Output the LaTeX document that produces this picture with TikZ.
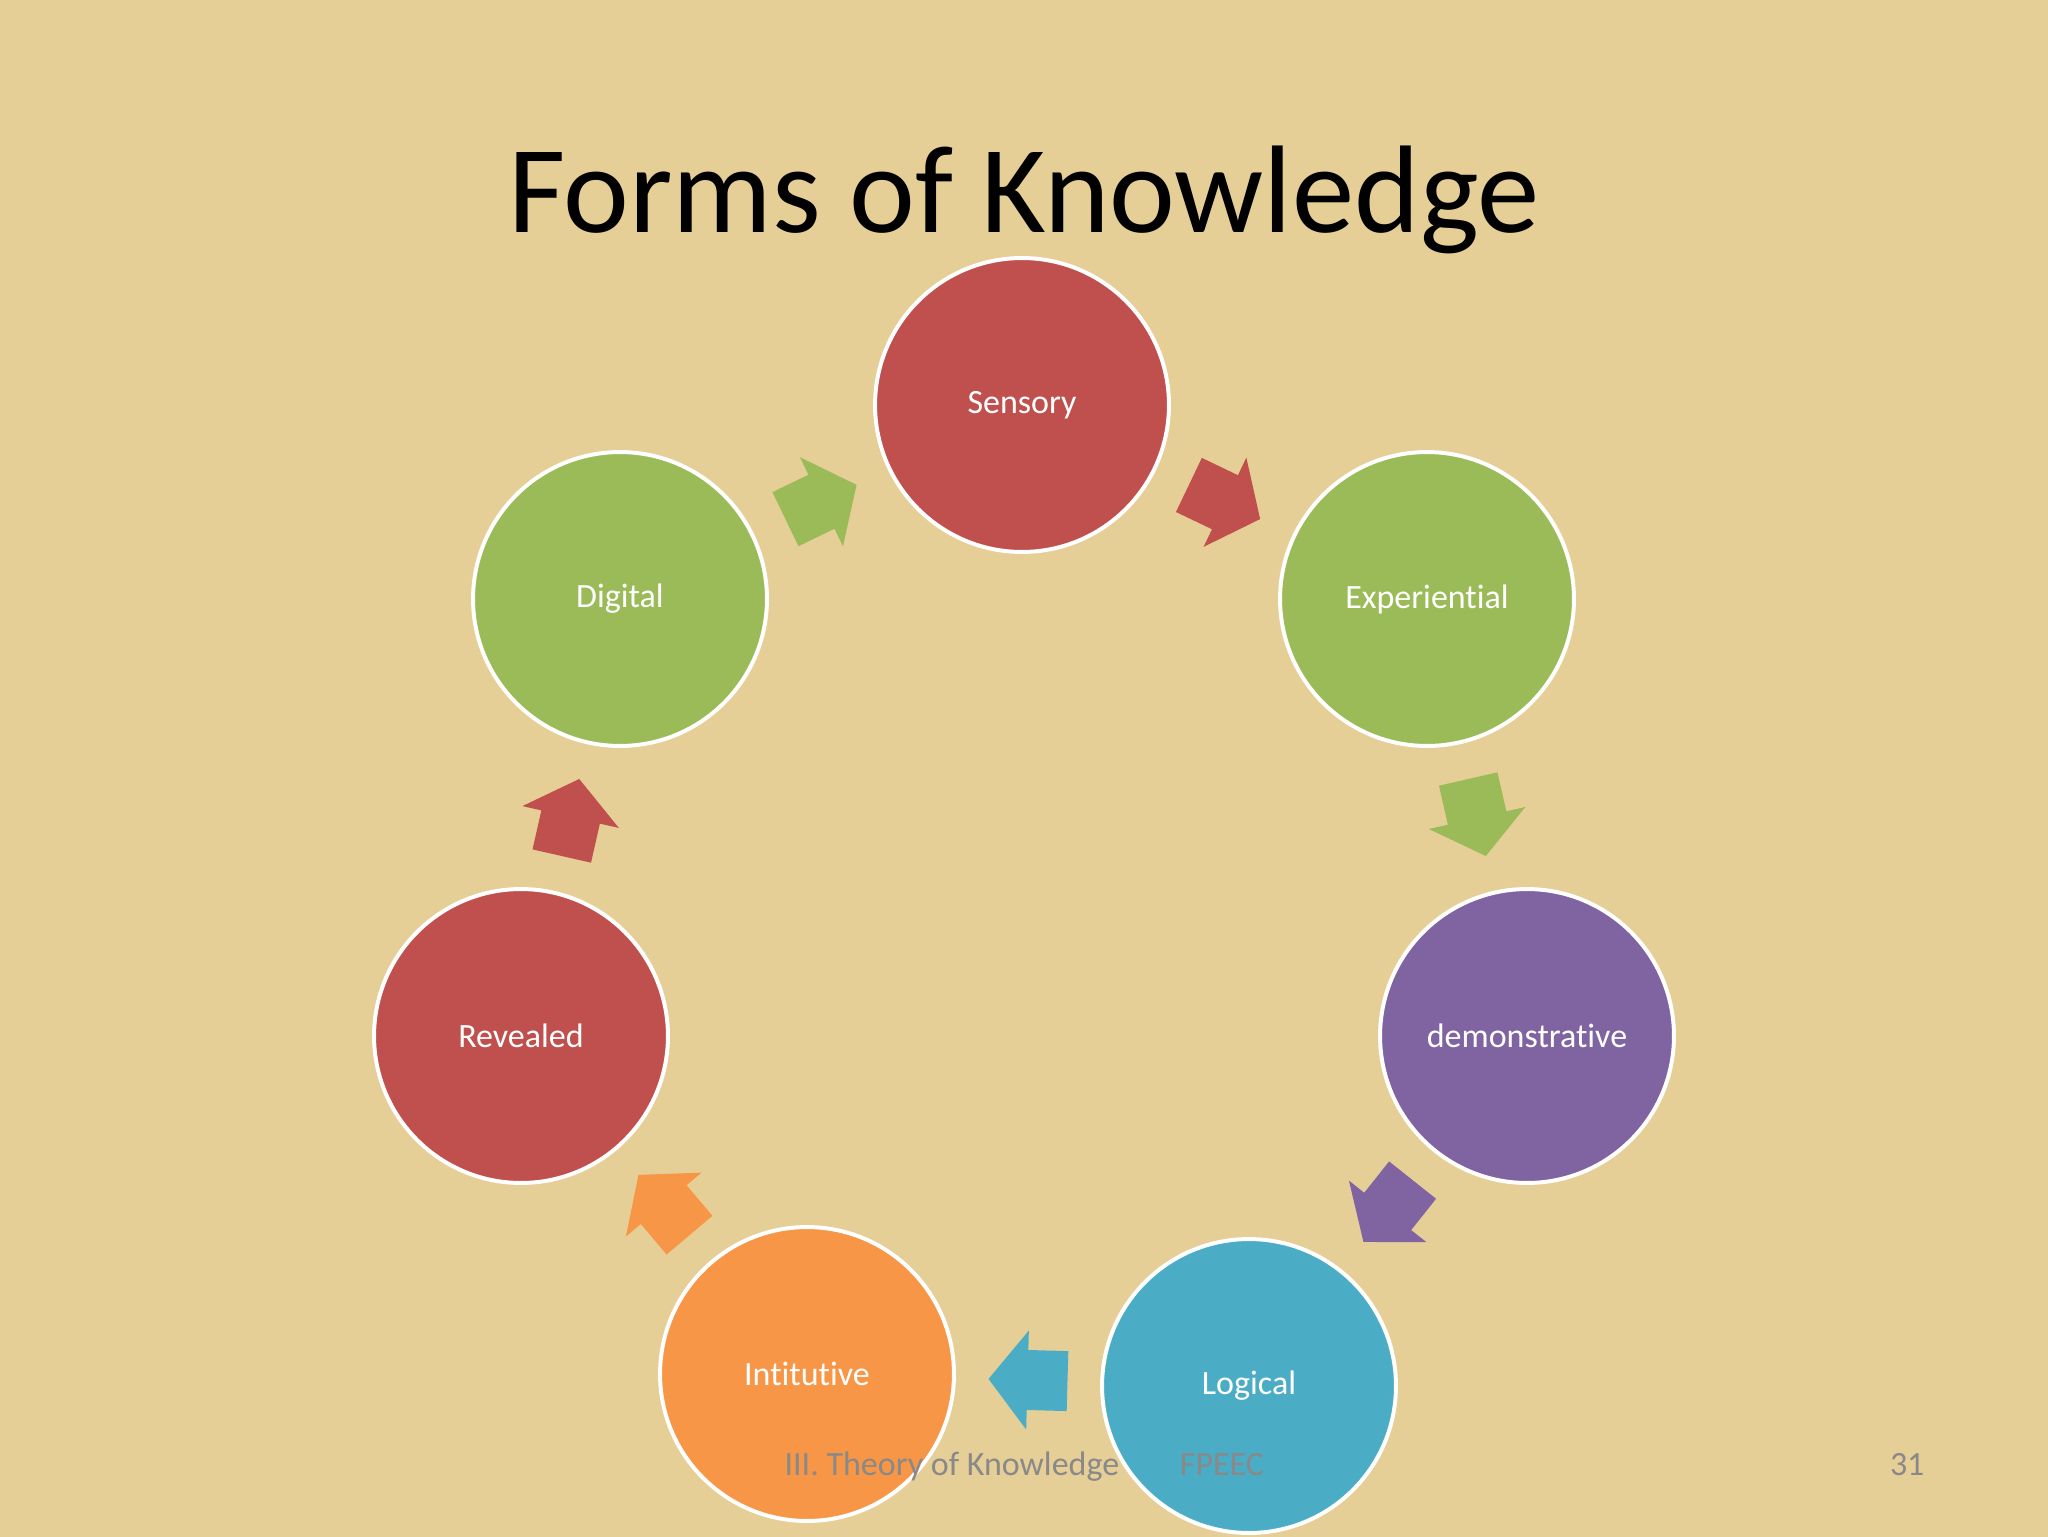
\documentclass[tikz,border=0pt]{standalone}
\usepackage{fontspec}
\setmainfont[Ligatures=NoCommon]{Carlito}
\usetikzlibrary{calc}
\definecolor{parchment}{HTML}{E6CF97}
\definecolor{formred}{HTML}{C0504D}
\definecolor{formgreen}{HTML}{9BBB59}
\definecolor{formpurple}{HTML}{8064A2}
\definecolor{formblue}{HTML}{4BACC6}
\definecolor{formorange}{HTML}{F79646}
\definecolor{footgray}{HTML}{898989}

\begin{document}
\begin{tikzpicture}[x=0.0124023cm,y=-0.0124023cm,
  form node/.style={circle,draw=white,line width=1.4pt,minimum size=3.646cm,inner sep=0pt,text=white,font=\fontsize{12}{14}\selectfont},
  foot/.style={text=footgray,font=\fontsize{12}{14}\selectfont,inner sep=0pt},
  blockarrow/.pic={\fill[#1] (-39.5,-30) -- (0.5,-30) -- (0.5,-49.5) -- (39.5,0) -- (0.5,49.5) -- (0.5,30) -- (-39.5,30) -- cycle;}]
  \useasboundingbox (0,0) rectangle (2048,1536);
  \fill[parchment] (-10,-10) rectangle (2058,1546);

  \node[anchor=base,inner sep=0pt,font=\fontsize{44}{52}\selectfont] (title) at (1024,232) {Forms of Knowledge};

  \node[form node,fill=formred] (1) at (1022,405) {Sensory};
  \node[form node,fill=formgreen] (2) at (1427,599) {Experiential};
  \node[form node,fill=formpurple] (3) at (1527,1036) {demonstrative};
  \node[form node,fill=formblue] (4) at (1249,1386) {Logical};
  \node[form node,fill=formorange] (5) at (807,1374) {Intitutive};
  \node[form node,fill=formred] (6) at (521,1036) {Revealed};
  \node[form node,fill=formgreen] (7) at (620,599) {Digital};

  % cycle arrows, coloured like the circle they leave
  \foreach \a/\b/\c in {1/2/formred,2/3/formgreen,3/4/formpurple,4/5/formblue,5/6/formorange,6/7/formred,7/1/formgreen}
    \path let \p1=($(\b)-(\a)$), \n1={atan2(\y1,\x1)} in
      ($(\a)!0.5!(\b)$) pic[rotate=\n1] {blockarrow=\c};

  \node[foot,anchor=base west] (footl) at (784,1475) {III. Theory of Knowledge};
  \node[foot,anchor=base] (footm) at (1222,1475) {FPEEC};
  \node[foot,anchor=base east] (footr) at (1925,1475) {31};
\end{tikzpicture}
\end{document}
